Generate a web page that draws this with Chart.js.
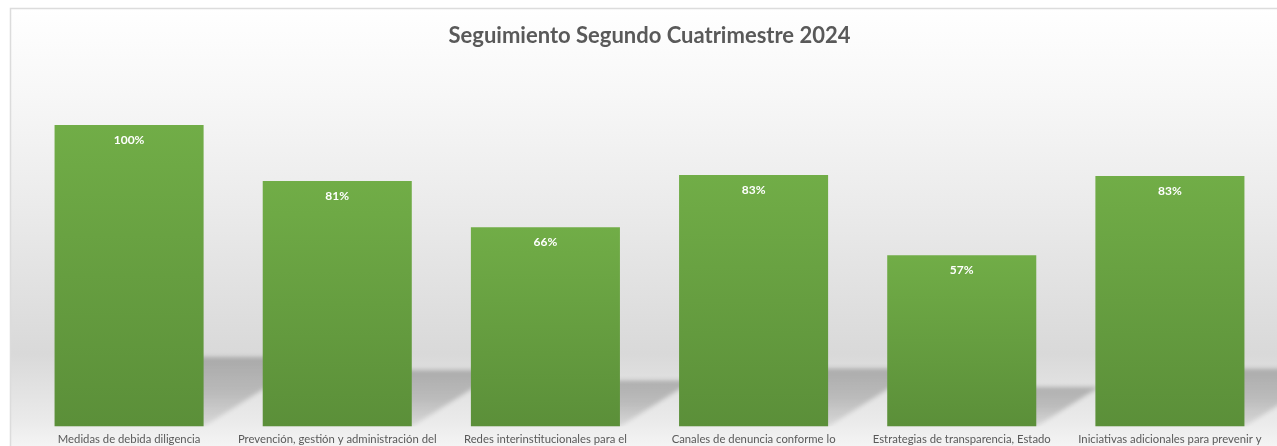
<!DOCTYPE html>
<html>
<head>
<meta charset="utf-8">
<script src="https://cdn.jsdelivr.net/npm/chart.js@4.4.1/dist/chart.umd.min.js"></script>
<style>
  html, body { margin: 0; padding: 0; background: #ffffff; }
  #wrap { width: 1277px; height: 446px; position: relative; overflow: hidden; }
</style>
</head>
<body>
<div id="wrap"><canvas id="c" width="1277" height="446"></canvas></div>
<script>
const titleText = 'Seguimiento Segundo Cuatrimestre 2024';
const categories = [
  'Medidas de debida diligencia',
  'Prevención, gestión y administración del',
  'Redes interinstitucionales para el',
  'Canales de denuncia conforme lo',
  'Estrategias de transparencia, Estado',
  'Iniciativas adicionales para prevenir y'
];
const values = [100, 81.4, 66.1, 83.4, 56.8, 83.1];
const valueLabels = ['100%', '81%', '66%', '83%', '57%', '83%'];

const bgPlugin = {
  id: 'bgPlugin',
  beforeDraw(chart) {
    const ctx = chart.ctx;
    const W = chart.width, H = chart.height;
    ctx.save();
    ctx.fillStyle = '#ffffff';
    ctx.fillRect(0, 0, W, H);
    const g = ctx.createLinearGradient(0, 8, 0, H);
    g.addColorStop(0, '#ffffff');
    g.addColorStop(0.20, '#f7f7f7');
    g.addColorStop(0.45, '#ebebeb');
    g.addColorStop(0.79, '#d9d9d9');
    g.addColorStop(0.94, '#eaeaea');
    g.addColorStop(1, '#f4f4f4');
    ctx.fillStyle = g;
    ctx.fillRect(10, 8, W - 10, H - 8);
    ctx.strokeStyle = '#dcdcdc';
    ctx.lineWidth = 1.5;
    ctx.beginPath();
    ctx.moveTo(10.5, H);
    ctx.lineTo(10.5, 8.5);
    ctx.lineTo(W, 8.5);
    ctx.stroke();
    ctx.restore();
  }
};

const shadowPlugin = {
  id: 'shadowPlugin',
  beforeDatasetsDraw(chart) {
    const ctx = chart.ctx;
    const meta = chart.getDatasetMeta(0);
    ctx.save();
    ctx.beginPath();
    ctx.rect(chart.chartArea.left - 20, chart.chartArea.top, chart.width, chart.chartArea.bottom - chart.chartArea.top);
    ctx.clip();
    meta.data.forEach(bar => {
      const left = bar.x - bar.width / 2;
      const right = bar.x + bar.width / 2;
      const base = bar.base;
      const h = (base - bar.y) * 0.23;
      const dx = h * 1.6;
      const g = ctx.createLinearGradient(0, base - h, 0, base);
      g.addColorStop(0, 'rgba(0,0,0,0.22)');
      g.addColorStop(0.5, 'rgba(0,0,0,0.18)');
      g.addColorStop(1, 'rgba(0,0,0,0.08)');
      ctx.fillStyle = g;
      ctx.filter = 'blur(2px)';
      ctx.beginPath();
      ctx.moveTo(left, base);
      ctx.lineTo(right, base);
      ctx.lineTo(right + dx, base - h);
      ctx.lineTo(left + dx, base - h);
      ctx.closePath();
      ctx.fill();
    });
    ctx.filter = 'none';
    ctx.restore();
  }
};

const labelPlugin = {
  id: 'labelPlugin',
  afterDatasetsDraw(chart) {
    const ctx = chart.ctx;
    const meta = chart.getDatasetMeta(0);
    ctx.save();
    ctx.fillStyle = '#ffffff';
    ctx.font = 'bold 12px Lato, "Open Sans", sans-serif';
    ctx.textAlign = 'center';
    ctx.textBaseline = 'middle';
    meta.data.forEach((bar, i) => {
      ctx.fillText(valueLabels[i], bar.x, bar.y + 15);
    });
    ctx.restore();
  }
};

new Chart(document.getElementById('c'), {
  type: 'bar',
  data: {
    labels: categories,
    datasets: [{
      data: values,
      backgroundColor: (c) => {
        const chart = c.chart;
        if (!chart.chartArea || !chart.scales.y || c.raw === undefined) return '#67a142';
        const y = chart.scales.y;
        const top = y.getPixelForValue(c.raw);
        const bottom = y.getPixelForValue(0);
        const g = chart.ctx.createLinearGradient(0, top, 0, bottom);
        g.addColorStop(0, '#71ad47');
        g.addColorStop(1, '#5b8f39');
        return g;
      },
      borderWidth: 0,
      barPercentage: 0.716,
      categoryPercentage: 1.0
    }]
  },
  options: {
    responsive: false,
    animation: false,
    devicePixelRatio: 1,
    layout: { padding: { left: 25, right: 3, top: 0, bottom: -6 } },
    plugins: {
      legend: { display: false },
      tooltip: { enabled: false },
      title: {
        display: true,
        text: titleText,
        color: '#595959',
        font: { family: 'Lato, "Open Sans", sans-serif', size: 22, weight: 'bold' },
        padding: { top: 23, bottom: 75.6 }
      }
    },
    scales: {
      x: {
        grid: { display: false, drawTicks: false, tickLength: 0 },
        border: { display: false },
        ticks: {
          color: '#595959',
          font: { family: 'Lato, "Open Sans", sans-serif', size: 11.3 },
          padding: 6,
          maxRotation: 0,
          autoSkip: false
        }
      },
      y: {
        display: false,
        min: 0,
        max: 100
      }
    }
  },
  plugins: [bgPlugin, shadowPlugin, labelPlugin]
});
</script>
</body>
</html>
